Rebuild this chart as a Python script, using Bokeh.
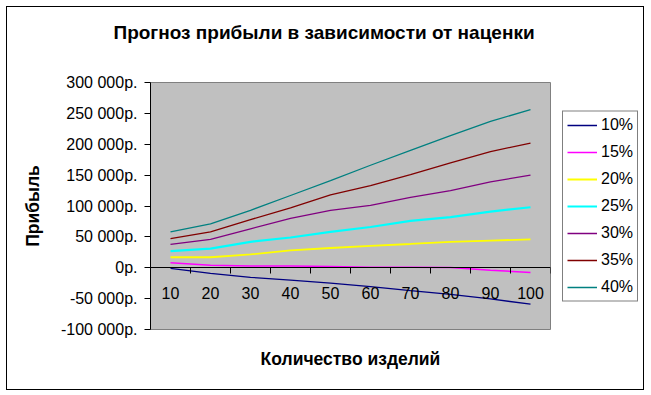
from bokeh.plotting import figure
from bokeh.models import Range1d, FixedTicker, LinearAxis, Legend, LegendItem, Title
from bokeh.embed import file_html
from bokeh.resources import INLINE

# ---- data ----
quantities = [10, 20, 30, 40, 50, 60, 70, 80, 90, 100]
series_names = ["10%", "15%", "20%", "25%", "30%", "35%", "40%"]
profit_10 = [-1000, -9000, -15500, -20000, -25000, -30500, -37000, -43000, -50500, -59000]
profit_15 = [8000, 4000, 3000, 3000, 2000, 1000, 1000, 500, -4000, -7500]
profit_20 = [17000, 17000, 21500, 28000, 32000, 35500, 38500, 42000, 44000, 46000]
profit_25 = [27000, 31000, 42000, 49000, 58000, 66000, 76000, 82000, 91000, 98000]
profit_30 = [38000, 46000, 63000, 80000, 93000, 101000, 114000, 125000, 139000, 150000]
profit_35 = [47000, 58000, 78000, 97000, 118000, 133000, 151000, 170000, 188000, 202000]
profit_40 = [58000, 71000, 93000, 117000, 141000, 166000, 190000, 214000, 237000, 256000]
y_ticks = [-100000, -50000, 0, 50000, 100000, 150000, 200000, 250000, 300000]
y_tick_labels = ["-100 000р.", "-50 000р.", "0р.", "50 000р.", "100 000р.",
                 "150 000р.", "200 000р.", "250 000р.", "300 000р."]

series = [profit_10, profit_15, profit_20, profit_25, profit_30, profit_35, profit_40]
colors = ["#000080", "#FF00FF", "#FFFF00", "#00FFFF", "#800080", "#800000", "#008080"]
widths = [1.3, 1.5, 1.8, 2.2, 1.3, 1.3, 1.3]

FONT = "Liberation Sans"
step = quantities[1] - quantities[0]
between = [q - step / 2 for q in quantities] + [quantities[-1] + step / 2]

p = figure(frame_width=400, frame_height=247, output_backend="svg", toolbar_location=None,
           x_range=Range1d(between[0], between[-1]),
           y_range=Range1d(y_ticks[0], y_ticks[-1]),
           min_border_left=143, min_border_right=0, min_border_top=75, min_border_bottom=60,
           x_axis_type=None, y_axis_type=None)
p.styles = {"margin-left": "7px", "margin-top": "7px", "max-width": "636px",
            "overflow": "hidden", "outline": "1px solid black"}
p.background_fill_color = "#C0C0C0"
p.border_fill_color = "white"
p.outline_line_color = "#808080"
p.outline_line_width = 1

# spacer between frame and title (nearest to the frame), then the title
spacer = LinearAxis(ticker=FixedTicker(ticks=[between[0]]))
spacer.major_label_overrides = {between[0]: ""}
spacer.axis_line_color = None
spacer.major_tick_line_color = None
spacer.minor_tick_line_color = None
spacer.major_tick_out = 40
spacer.major_tick_in = 0
spacer.minor_tick_out = 0
spacer.major_label_standoff = 0
p.add_layout(spacer, "above")

title = Title(text="Прогноз прибыли в зависимости от наценки")
title.text_font = FONT
title.text_font_size = "19px"
title.text_font_style = "bold"
title.text_color = "black"
title.align = "left"
title.offset = -37
title.standoff = 0
p.add_layout(title, "above")

# y axis
yaxis = LinearAxis(ticker=FixedTicker(ticks=y_ticks), axis_label="Прибыль")
yaxis.major_label_overrides = {t: l for t, l in zip(y_ticks, y_tick_labels)}
yaxis.major_label_text_font = FONT
yaxis.major_label_text_font_size = "16px"
yaxis.major_label_text_color = "black"
yaxis.major_tick_out = 6
yaxis.major_tick_in = 0
yaxis.minor_tick_out = 0
yaxis.minor_tick_in = 0
yaxis.major_label_standoff = 7
yaxis.axis_line_color = "black"
yaxis.major_tick_line_color = "black"
yaxis.axis_label_text_font = FONT
yaxis.axis_label_text_font_size = "17.5px"
yaxis.axis_label_text_font_style = "bold"
yaxis.axis_label_text_color = "black"
yaxis.axis_label_standoff = 15
p.add_layout(yaxis, "left")

# x axis title holder
xtitle = LinearAxis(ticker=FixedTicker(ticks=[]), axis_label="Количество изделий")
xtitle.axis_line_color = None
xtitle.major_tick_line_color = None
xtitle.minor_tick_line_color = None
xtitle.axis_label_text_font = FONT
xtitle.axis_label_text_font_size = "17.5px"
xtitle.axis_label_text_font_style = "bold"
xtitle.axis_label_text_color = "black"
xtitle.axis_label_standoff = 19
p.add_layout(xtitle, "below")

# category axis crossing at zero: tick marks between categories
xticks_axis = LinearAxis(ticker=FixedTicker(ticks=between), fixed_location=0)
xticks_axis.major_label_overrides = {t: "" for t in between}
xticks_axis.major_tick_out = 6
xticks_axis.major_tick_in = 0
xticks_axis.minor_tick_out = 0
xticks_axis.axis_line_color = "black"
xticks_axis.major_tick_line_color = "black"
p.add_layout(xticks_axis, "below")

xlabels_axis = LinearAxis(ticker=FixedTicker(ticks=quantities), fixed_location=0)
xlabels_axis.major_tick_out = 0
xlabels_axis.major_tick_in = 0
xlabels_axis.minor_tick_out = 0
xlabels_axis.axis_line_color = None
xlabels_axis.major_tick_line_color = None
xlabels_axis.major_label_standoff = 19
xlabels_axis.major_label_text_font = FONT
xlabels_axis.major_label_text_font_size = "16px"
xlabels_axis.major_label_text_color = "black"
p.add_layout(xlabels_axis, "below")

# grid
p.ygrid.ticker = FixedTicker(ticks=y_ticks[1:-1])
p.ygrid.grid_line_color = "black"
p.ygrid.grid_line_width = 1
p.xgrid.grid_line_color = None

items = []
for name, vals, c, w in zip(series_names, series, colors, widths):
    r = p.line(quantities, vals, line_color=c, line_width=w)
    items.append(LegendItem(label=name, renderers=[r]))

legend = Legend(items=items, location="left")
legend.border_line_color = "black"
legend.border_line_width = 1
legend.background_fill_color = "white"
legend.background_fill_alpha = 1
legend.label_text_font = FONT
legend.label_text_font_size = "16px"
legend.label_text_color = "black"
legend.glyph_width = 30
legend.glyph_height = 19
legend.label_height = 19
legend.spacing = 8
legend.padding = 4
legend.margin = 12
legend.label_standoff = 4
p.add_layout(legend, "right")

open("out.html", "w").write(file_html(p, INLINE))
